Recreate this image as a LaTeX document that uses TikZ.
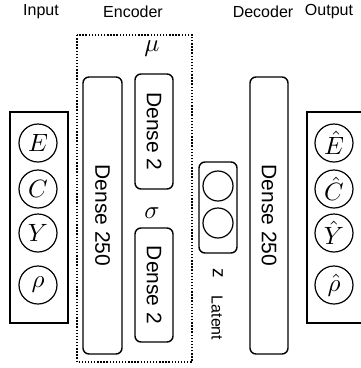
\documentclass[tikz,border=0pt]{standalone}
\usepackage{fontspec}
\setmainfont{Liberation Sans}
\newcommand{\bigsym}[1]{\scalebox{2.5}{$#1$}}
\begin{document}
\begin{tikzpicture}[x=1pt,y=-1pt,
  hdr/.style={font=\fontsize{16}{18}\selectfont, inner sep=0pt},
  layer/.style={draw, line width=1.4pt, rounded corners=6pt, rotate=-90, inner sep=0pt, font=\fontsize{21}{21}\selectfont},
  sq/.style={draw, line width=1.6pt},
  unit/.style={draw, circle, line width=1.2pt, minimum size=38pt, inner sep=0pt, font=\fontsize{10}{10}\selectfont},
  lunit/.style={draw, circle, line width=1.2pt, minimum size=30pt, inner sep=0pt},
  sym/.style={inner sep=0pt, font=\fontsize{10}{10}\selectfont},
  rotlbl/.style={rotate=-90, inner sep=0pt}]
\useasboundingbox (0,0) rectangle (361,368);

% headers
\node[hdr] (hin) at (41,12) {Input};
\node[hdr] (henc) at (133,12) {Encoder};
\node[hdr] (hdec) at (263,12) {Decoder};
\node[hdr] (hout) at (329,12) {Output};

% input
\draw[sq] (10,112) rectangle (68,323);
\node[unit] (iE) at (38,143) {\bigsym{E}};
\node[unit] (iC) at (38,189) {\bigsym{C}};
\node[unit] (iY) at (38,233) {\bigsym{Y}};
\node[unit] (iR) at (38,285) {\bigsym{\rho}};

% encoder
\draw[line width=1.4pt, dash pattern=on 1.4pt off 1.7pt] (77,35) rectangle (192,362);
\node[layer, minimum width=277pt, minimum height=39pt] (e250) at (102.5,215.5) {Dense 250};
\node[layer, minimum width=115pt, minimum height=38pt] (mu2) at (154,131.5) {Dense 2};
\node[layer, minimum width=114pt, minimum height=38pt] (sg2) at (154,285) {Dense 2};
\node[sym] (mu) at (152,49) {\bigsym{\mu}};
\node[sym] (sg) at (152,213) {\bigsym{\sigma}};

% latent
\draw[line width=1.4pt, rounded corners=6pt] (199,162) rectangle (237,253);
\node[lunit] (z1) at (218,186) {};
\node[lunit] (z2) at (218,223) {};
\node[rotlbl, font=\fontsize{19}{19}\selectfont] (zl) at (218,273) {z};
\node[rotlbl, font=\fontsize{16}{16}\selectfont] (latl) at (217,318) {Latent};

% decoder
\node[layer, minimum width=277pt, minimum height=38pt] (d250) at (269,215.5) {Dense 250};

% output
\draw[sq] (307,112) rectangle (367,323);
\node[unit] (oE) at (334,143) {\bigsym{\hat{E}}};
\node[unit] (oC) at (334,189) {\bigsym{\hat{C}}};
\node[unit] (oY) at (334,233) {\bigsym{\hat{Y}}};
\node[unit] (oR) at (334,285) {\bigsym{\hat{\rho}}};
\end{tikzpicture}
\end{document}
